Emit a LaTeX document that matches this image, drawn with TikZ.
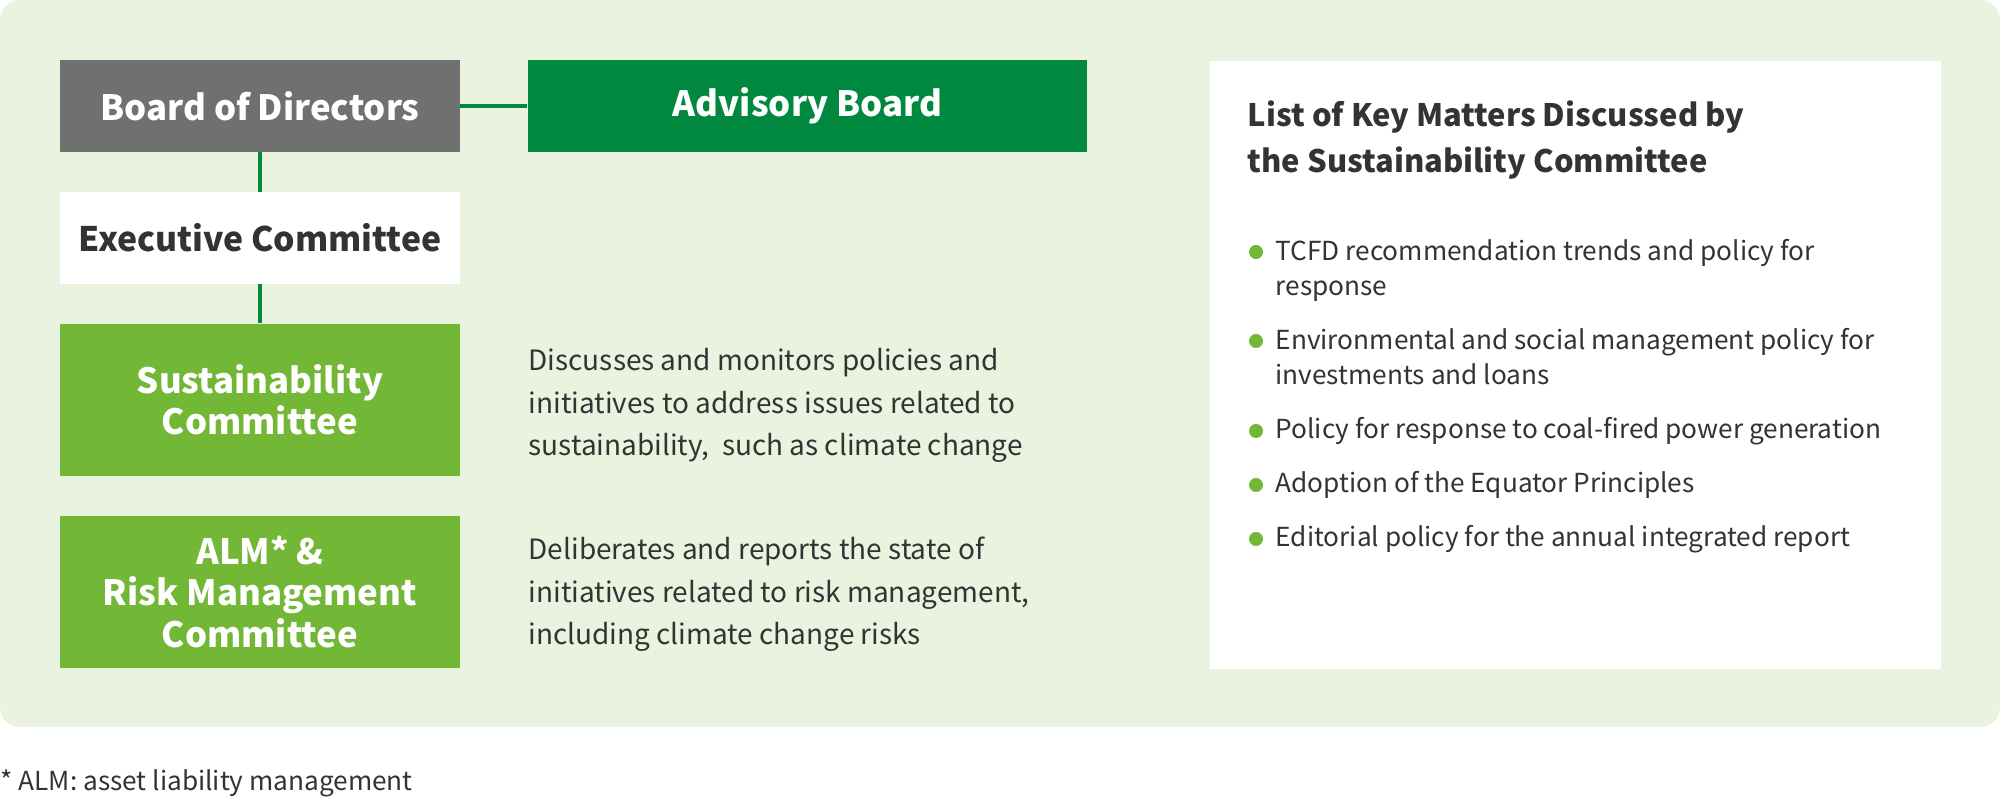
\documentclass[tikz,border=0pt]{standalone}
\usepackage{fontspec}
\setmainfont{Noto Sans CJK JP}
\usetikzlibrary{positioning}
\definecolor{boardgray}{HTML}{707070}
\definecolor{darkgreen}{HTML}{00883F}
\definecolor{leafgreen}{HTML}{72B736}
\definecolor{paleback}{HTML}{EAF3E0}
\definecolor{inkgray}{HTML}{333333}

\begin{document}
\begin{tikzpicture}[x=0.01cm, y=-0.01cm,
  block/.style={inner sep=0pt, minimum width=3.99cm, align=center,
    text=white, font=\fontsize{9.9}{11.8}\selectfont\bfseries},
  link/.style={draw=darkgreen, line width=1.4pt},
  desc/.style={inner sep=0pt, anchor=base west, align=left, text=inkgray,
    font=\fontsize{7.95}{12.2}\selectfont},
  item/.style={inner sep=0pt, anchor=base west, align=left, text=inkgray,
    font=\fontsize{7.45}{10}\selectfont},
  dot/.style={circle, fill=leafgreen, inner sep=0pt, minimum size=0.14cm}
]
  \useasboundingbox (0,0) rectangle (2000,798);
  \fill[paleback, rounded corners=0.2cm] (0,0) rectangle (2000,727);

  % governance chain (left)
  \node[block, fill=boardgray, minimum height=0.91cm] (board) at (260,106)
    {Board of Directors};
  \node[block, fill=darkgreen, minimum width=5.59cm, minimum height=0.91cm]
    (advisory) at (807.5,106) {Advisory Board};
  \node[block, fill=white, text=inkgray, minimum height=0.91cm,
    font=\fontsize{9.6}{11.8}\selectfont\bfseries] (exec)
    at (260,238) {Executive Committee};
  \node[block, fill=leafgreen, minimum height=1.52cm] (sus) at (260,400)
    {Sustainability\\Committee};
  \node[block, fill=leafgreen, minimum height=1.52cm] (alm) at (260,592)
    {ALM* \&\\Risk Management\\Committee};
  \draw[link] (board) -- (advisory);
  \draw[link] (board) -- (exec);
  \draw[link] (exec) -- (sus);

  % what each committee does
  \node[desc] (susdesc) at (528,456)
    {Discusses and monitors policies and\\initiatives to address issues related to\\sustainability,~ such as climate change};
  \node[desc] (almdesc) at (528,645)
    {Deliberates and reports the state of\\initiatives related to risk management,\\including climate change risks};

  % key matters panel (right)
  \node[fill=white, inner sep=0pt, minimum width=7.31cm, minimum height=6.08cm,
    anchor=north west] (panel) at (1209,60) {};
  \node[anchor=base west, inner sep=0pt, align=left, text=inkgray,
    font=\fontsize{8.8}{13.1}\selectfont\bfseries] (paneltitle) at (1247,173)
    {List of Key Matters Discussed by\\the Sustainability Committee};
  \node[item] (it1) at (1275,296) {TCFD recommendation trends and policy for\\response};
  \node[item] (it2) at (1275,385) {Environmental and social management policy for\\investments and loans};
  \node[item] (it3) at (1275,439) {Policy for response to coal-fired power generation};
  \node[item] (it4) at (1275,493) {Adoption of the Equator Principles};
  \node[item] (it5) at (1275,547) {Editorial policy for the annual integrated report};
  \node[dot] (b1) at (1256,252) {};
  \node[dot] (b2) at (1256,341) {};
  \node[dot] (b3) at (1256,431) {};
  \node[dot] (b4) at (1256,485) {};
  \node[dot] (b5) at (1256,539) {};

  % footnote
  \node[anchor=base west, inner sep=0pt, text=inkgray,
    font=\fontsize{7.45}{10}\selectfont] (note) at (0,791)
    {* ALM: asset liability management};
\end{tikzpicture}
\end{document}
